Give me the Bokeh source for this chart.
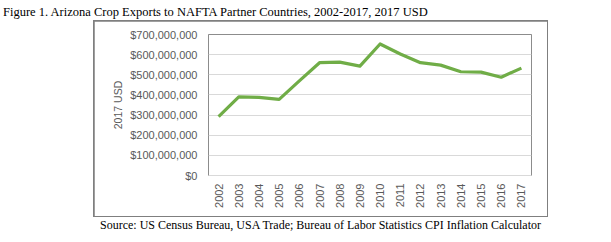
from bokeh.plotting import figure
from bokeh.models import (FactorRange, Range1d, NumeralTickFormatter, FixedTicker, Div)
from bokeh.layouts import column
from bokeh.embed import file_html
from bokeh.resources import INLINE
import math

years = [str(y) for y in range(2002, 2018)]
exports = [292e6, 390e6, 388e6, 378e6, 470e6, 560e6, 563e6, 543e6,
           653e6, 603e6, 560e6, 548e6, 515e6, 513e6, 488e6, 533e6]
y_ticks = [0, 100e6, 200e6, 300e6, 400e6, 500e6, 600e6, 700e6]
title_text = "Figure 1. Arizona Crop Exports to NAFTA Partner Countries, 2002-2017, 2017 USD"
source_text = "Source: US Census Bureau, USA Trade; Bureau of Labor Statistics CPI Inflation Calculator"
y_label = "2017 USD"

# figure sits inside a 1px grey frame (chart area)
FW, FH = 453, 195
p = figure(width=FW, height=FH, x_range=FactorRange(*years, range_padding=0),
           y_range=Range1d(0, 700e6), output_backend="svg", toolbar_location=None,
           min_border_left=114, min_border_right=16,
           min_border_top=13, min_border_bottom=41, margin=(1, 1, 1, 1))
p.x_range.factor_padding = 0
p.background_fill_color = "white"
p.border_fill_color = "white"
p.outline_line_color = "#8c8c8c"
p.outline_line_width = 1

p.line(years, exports, line_color="#70AD47", line_width=3.2, line_join="round")

p.yaxis.ticker = FixedTicker(ticks=y_ticks)
p.yaxis.formatter = NumeralTickFormatter(format="$0,0")
p.yaxis.axis_line_color = None
p.yaxis.major_tick_line_color = None
p.yaxis.minor_tick_line_color = None
p.yaxis.major_tick_out = 0
p.yaxis.major_tick_in = 0
p.yaxis.minor_tick_out = 0
p.yaxis.major_label_standoff = 11
p.yaxis.major_label_text_font = "Liberation Sans"
p.yaxis.major_label_text_font_size = "11px"
p.yaxis.major_label_text_color = "#595959"
p.yaxis.axis_label = y_label
p.yaxis.axis_label_text_font = "Liberation Sans"
p.yaxis.axis_label_text_font_size = "10.5px"
p.yaxis.axis_label_text_font_style = "normal"
p.yaxis.axis_label_text_color = "#595959"
p.yaxis.axis_label_standoff = 3

p.xaxis.axis_line_color = "#d9d9d9"
p.xaxis.major_tick_line_color = None
p.xaxis.minor_tick_line_color = None
p.xaxis.major_tick_out = 0
p.xaxis.major_tick_in = 0
p.xaxis.minor_tick_out = 0
p.xaxis.major_label_orientation = math.pi / 2
p.xaxis.major_label_standoff = 8
p.xaxis.major_label_text_font = "Liberation Sans"
p.xaxis.major_label_text_font_size = "11px"
p.xaxis.major_label_text_color = "#595959"

p.xgrid.grid_line_color = None
p.ygrid.grid_line_color = "#d9d9d9"
p.ygrid.grid_line_width = 1

box = column(p, width=FW + 2, height=FH + 2, margin=(0, 0, 0, 93),
             styles={"background-color": "#7f7f7f"})

title_div = Div(text=title_text, width=611, height=20, margin=(0, 0, 0, 0),
                styles={"font-family": "Liberation Serif", "font-size": "12.5px",
                        "color": "black", "line-height": "16px", "padding-top": "4px",
                        "padding-left": "3px", "white-space": "nowrap",
                        "box-sizing": "border-box"})
source_div = Div(text=source_text, width=455, height=25, margin=(0, 0, 0, 93),
                 styles={"font-family": "Liberation Serif", "font-size": "12px",
                         "color": "black", "line-height": "15px", "padding-top": "1px",
                         "text-align": "center", "white-space": "nowrap",
                         "box-sizing": "border-box"})

layout = column(title_div, box, source_div, width=611, height=242,
                styles={"background-color": "white"})

open("out.html", "w").write(file_html(layout, INLINE))
